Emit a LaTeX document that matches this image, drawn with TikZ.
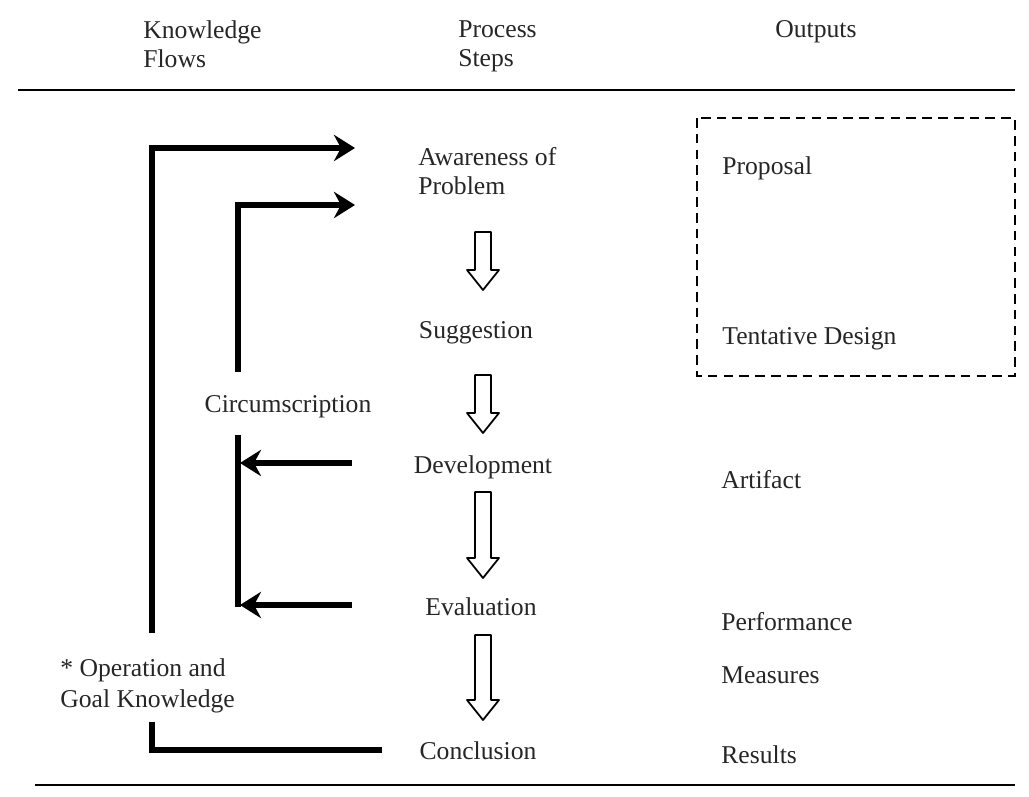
\documentclass[tikz,border=0pt]{standalone}
\usepackage{fontspec}
\setmainfont{Liberation Serif}
\usetikzlibrary{arrows.meta,positioning,calc}

\newcommand{\hollowarrow}[2]{%
  \draw[hollow arrow] ($(#1)+(-8,0)$) -- ($(#1)+(8,0)$) -- ($(#2)+(8,-20)$) -- ($(#2)+(16,-20)$)
    -- (#2) -- ($(#2)+(-16,-20)$) -- ($(#2)+(-8,-20)$) -- cycle;}

\begin{document}
\begin{tikzpicture}[x=0.02cm,y=-0.02cm,
  txt/.style={inner sep=0pt,font=\fontsize{14.6}{16.5}\selectfont,text=black!85},
  step node/.style={txt,anchor=center},
  out node/.style={txt,anchor=west},
  flow line/.style={line width=2.9pt},
  flow arrow/.style={flow line,-{Stealth[length=12pt,width=15pt,inset=4pt]}},
  hollow arrow/.style={line width=1pt,line join=round,fill=white}]
  \useasboundingbox (0,0) rectangle (1029,797);

  % headings and rules
  \node[out node,align=left] (kf) at (143,44) {Knowledge\\Flows};
  \node[out node,align=left] (ps) at (458,46) {Process\\Steps};
  \node[out node] (op) at (775,32) {Outputs};
  \draw[line width=1.7pt] (18,90) -- (1015,90);
  \draw[line width=1.1pt] (35,785) -- (1015,785);

  % process steps
  \node[out node,align=left] (aw) at (418,171) {Awareness of\\Problem};
  \node[step node] (sug) at (476,333) {Suggestion};
  \node[step node] (dev) at (483,467) {Development};
  \node[step node] (eva) at (481,607) {Evaluation};
  \node[step node] (con) at (478,751) {Conclusion};

  \foreach \a/\b [count=\i] in {232/290,375/433,492/578,635/720}{
    \coordinate (h\i s) at (483,\a);
    \coordinate (h\i e) at (483,\b);
    \hollowarrow{h\i s}{h\i e}
  }

  % outputs
  \draw[line width=1.5pt,dash pattern=on 5.5pt off 3.5pt] (697,118) rectangle (1015,376);
  \node[out node] (prop) at (722,168) {Proposal};
  \node[out node] (tent) at (722,339) {Tentative Design};
  \node[out node] (art) at (721,480) {Artifact};
  \node[out node] (perf) at (721,622) {Performance};
  \node[out node] (meas) at (721,675) {Measures};
  \node[out node] (res) at (721,755) {Results};

  % knowledge flows
  \node[step node] (circ) at (288,407) {Circumscription};
  \node[out node,align=left,font=\fontsize{14.6}{17.6}\selectfont] (ogk) at (60,686) {* Operation and\\Goal Knowledge};

  \coordinate (o1) at (152,633);
  \coordinate (o2) at (355,148);
  \coordinate (o3) at (382,750);
  \coordinate (o4) at (152,722);
  \coordinate (i1) at (238,372);
  \coordinate (i2) at (355,205);
  \coordinate (i3) at (238,435);
  \coordinate (i4) at (238,607);
  \coordinate (d1) at (352,463);
  \coordinate (d2) at (240,463);
  \coordinate (e1) at (352,605);
  \coordinate (e2) at (240,605);

  \draw[flow arrow] (o1) |- (o2);
  \draw[flow line] (o3) -| (o4);
  \draw[flow arrow] (i1) |- (i2);
  \draw[flow line] (i3) -- (i4);
  \draw[flow arrow] (d1) -- (d2);
  \draw[flow arrow] (e1) -- (e2);
\end{tikzpicture}
\end{document}
